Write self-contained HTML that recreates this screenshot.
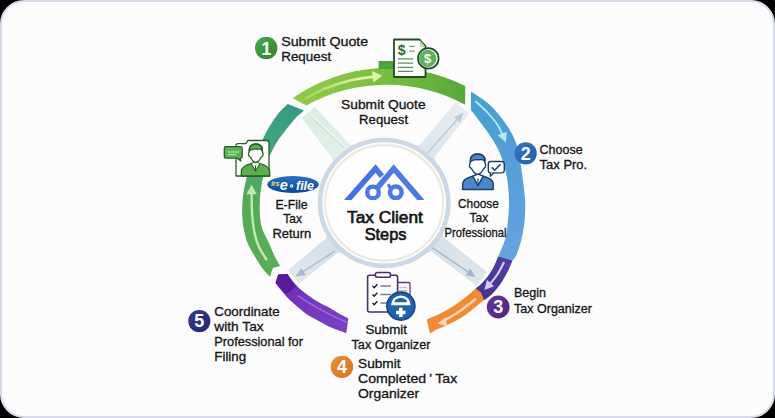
<!DOCTYPE html>
<html><head><meta charset="utf-8"><style>
html,body{margin:0;padding:0;background:#000;}
svg{display:block;}
text{font-family:"Liberation Sans",sans-serif;}
</style></head><body>
<svg width="775" height="418" viewBox="0 0 775 418">
<defs>
<linearGradient id="gTop" x1="290" y1="100" x2="465" y2="90" gradientUnits="userSpaceOnUse">
<stop offset="0" stop-color="#94ca46"/><stop offset="0.45" stop-color="#80c040"/><stop offset="0.8" stop-color="#66b33d"/><stop offset="1" stop-color="#55a83a"/></linearGradient>
<linearGradient id="gTopArrow" x1="305" y1="0" x2="360" y2="0" gradientUnits="userSpaceOnUse">
<stop offset="0" stop-color="#def3a6" stop-opacity="0.25"/><stop offset="1" stop-color="#def3a6" stop-opacity="1"/></linearGradient>
<linearGradient id="gLeft" x1="290" y1="105" x2="250" y2="270" gradientUnits="userSpaceOnUse">
<stop offset="0" stop-color="#34997f"/><stop offset="0.2" stop-color="#3da384"/><stop offset="0.42" stop-color="#48a872"/><stop offset="0.6" stop-color="#53ab58"/><stop offset="1" stop-color="#5aad55"/></linearGradient>
<linearGradient id="gBlue" x1="475" y1="95" x2="515" y2="255" gradientUnits="userSpaceOnUse">
<stop offset="0" stop-color="#40a2d2"/><stop offset="0.35" stop-color="#549dd8"/><stop offset="1" stop-color="#65a3df"/></linearGradient>
<linearGradient id="gPurR" x1="505" y1="258" x2="480" y2="298" gradientUnits="userSpaceOnUse">
<stop offset="0" stop-color="#4f3fa2"/><stop offset="1" stop-color="#45328f"/></linearGradient>
<linearGradient id="gPurL" x1="280" y1="280" x2="348" y2="328" gradientUnits="userSpaceOnUse">
<stop offset="0" stop-color="#6d2eb4"/><stop offset="0.5" stop-color="#7638bd"/><stop offset="1" stop-color="#7c40c4"/></linearGradient>
<linearGradient id="gSpTL" x1="305" y1="112" x2="345" y2="150" gradientUnits="userSpaceOnUse">
<stop offset="0" stop-color="#d9ede1"/><stop offset="1" stop-color="#e2f0e7"/></linearGradient>
<linearGradient id="gSpTR" x1="462" y1="108" x2="425" y2="150" gradientUnits="userSpaceOnUse">
<stop offset="0" stop-color="#e7edf2"/><stop offset="1" stop-color="#dde6ed"/></linearGradient>
<linearGradient id="gSpBL" x1="294" y1="276" x2="335" y2="248" gradientUnits="userSpaceOnUse">
<stop offset="0" stop-color="#dfe7ef"/><stop offset="1" stop-color="#d5dfe9"/></linearGradient>
<linearGradient id="gSpBR" x1="481" y1="279" x2="435" y2="246" gradientUnits="userSpaceOnUse">
<stop offset="0" stop-color="#dde7ea"/><stop offset="1" stop-color="#d7e1ea"/></linearGradient>
<linearGradient id="gEfile" x1="0" y1="0" x2="0" y2="1">
<stop offset="0" stop-color="#2a6fc0"/><stop offset="1" stop-color="#0d4896"/></linearGradient>
<linearGradient id="gLogo" x1="349" y1="165" x2="423" y2="200" gradientUnits="userSpaceOnUse">
<stop offset="0" stop-color="#3d6be0"/><stop offset="0.5" stop-color="#4d7be6"/><stop offset="1" stop-color="#4a78e4"/></linearGradient>
</defs>
<rect x="1" y="1" width="773" height="416" rx="23" ry="23" fill="#fcfcfc" stroke="#d6dae9" stroke-width="2"/>

<g id="spokes">
<path d="M367.9,164.7 L314.9,107.4 L302.3,118.0 L349.6,180.1 Z" fill="url(#gSpTL)" stroke="#d2e6da" stroke-width="0.6"/>
<path d="M417.2,178.1 L468.4,113.6 L455.6,103.2 L402.5,166.0 Z" fill="url(#gSpTR)" stroke="#d5dfe8" stroke-width="0.6"/>
<path d="M347.6,221.0 L288.7,270.0 L299.1,282.8 L359.2,235.4 Z" fill="url(#gSpBL)" stroke="#ccd8e3" stroke-width="0.6"/>
<path d="M410.3,234.9 L476.5,285.3 L486.7,272.3 L421.7,220.3 Z" fill="url(#gSpBR)" stroke="#cfdbe3" stroke-width="0.6"/>
<path d="M347.28,143.18 Q350.18,146.63 354.10,144.42 L352.87,148.28 Z" fill="#cfdcdf"/><path d="M331.97,156.05 Q334.87,159.49 332.02,162.98 L336.03,162.43 Z" fill="#cfdcdf"/>
<path d="M435.68,154.57 Q432.83,158.05 435.78,161.45 L431.70,161.01 Z" fill="#cfdae5"/><path d="M421.91,143.29 Q419.06,146.77 415.15,144.55 L416.38,148.46 Z" fill="#cfdae5"/>
<path d="M324.67,240.21 Q328.16,237.38 325.95,233.46 L329.86,234.72 Z" fill="#cfdae5"/><path d="M335.68,253.81 Q339.18,250.98 342.55,253.95 L342.14,249.87 Z" fill="#cfdae5"/>
<path d="M434.23,252.92 Q430.68,250.15 427.36,253.19 L427.70,249.09 Z" fill="#cfdae5"/><path d="M445.00,239.13 Q441.45,236.36 443.59,232.40 L439.70,233.72 Z" fill="#cfdae5"/>
<path d="M310.3,116 L345.5,149" stroke="#cbe2d4" stroke-width="1.1"/>
<path d="M311.6,115.2 L346.8,148.2" stroke="#f1f9f4" stroke-width="1.2"/>
<path d="M427.5,153 L459.5,117" stroke="#b9cbdb" stroke-width="1.3"/>
<path d="M463.5,112.8 L460.0,122.7 L454.0,117.3 Z" fill="#b9cbdb"/>
<path d="M335,251 L301,273" stroke="#a9bacb" stroke-width="1.4"/>
<path d="M295.5,276.5 L301.3,267.9 L305.7,275.1 Z" fill="#a9bacb"/>
<path d="M432,247.5 L469,272.5" stroke="#a5b5c8" stroke-width="1.4"/>
<path d="M475.5,277.0 L465.7,275.5 L470.3,268.5 Z" fill="#a5b5c8"/>
</g>
<g id="ring">
<path d="M292.6,98.2 A168.87,168.87 0 0 1 465.2,86.1 L465.2,104.7 A164.65,164.65 0 0 0 306.5,105.5 Z" fill="url(#gTop)"/>
<rect x="378.6" y="61" width="16" height="8" fill="#4ba63a"/>
<path d="M287.8,103.9 C286.2,105.5 281.5,109.5 278.3,113.5 C275.1,117.5 271.8,122.5 268.7,127.8 C265.6,133.1 262.8,139.3 260.0,145.0 C257.2,150.7 254.2,156.5 252.0,162.0 C249.8,167.5 248.0,172.3 246.5,178.0 C245.0,183.7 243.7,190.0 243.0,196.0 C242.3,202.0 242.1,208.5 242.2,214.0 C242.3,219.5 242.9,224.2 243.8,229.0 C244.7,233.8 245.7,238.5 247.5,243.0 C249.3,247.5 252.1,251.8 254.6,256.0 C257.1,260.2 259.9,265.1 262.5,268.5 C265.1,271.9 268.7,275.3 269.9,276.7 L272.9,268.0 L280.1,265.9 C279.2,264.3 276.6,260.2 274.7,256.3 C272.8,252.4 270.8,247.2 268.7,242.5 C266.6,237.8 263.5,232.8 262.0,228.0 C260.5,223.2 260.1,219.0 259.8,214.0 C259.5,209.0 259.6,203.7 260.0,198.0 C260.4,192.3 261.4,185.8 262.5,180.0 C263.6,174.2 265.0,167.7 266.5,163.0 C268.0,158.3 269.8,155.6 271.6,152.0 C273.4,148.4 274.9,145.2 277.3,141.5 C279.7,137.8 283.0,133.7 286.0,129.8 C289.0,125.9 292.5,121.5 295.5,118.3 C298.5,115.1 302.7,111.9 304.1,110.6 Z" fill="url(#gLeft)"/>
<path d="M471.0,91.5 C473.1,92.9 479.9,97.1 483.7,100.0 C487.5,102.9 490.1,104.9 493.7,108.7 C497.3,112.5 501.9,118.2 505.2,123.0 C508.5,127.8 511.6,132.7 513.8,137.4 C516.0,142.1 516.9,145.2 518.2,151.0 C519.5,156.8 520.7,164.5 521.8,172.0 C522.9,179.5 524.2,189.7 524.8,196.0 C525.4,202.3 525.3,205.0 525.2,210.0 C525.1,215.0 524.7,220.8 524.0,226.0 C523.3,231.2 522.2,236.3 521.0,241.0 C519.8,245.7 518.0,251.1 516.6,254.4 C515.2,257.7 513.2,259.6 512.5,260.6 L498.4,256.3 C499.6,253.2 503.9,244.1 505.5,238.0 C507.1,231.9 507.4,226.3 508.0,220.0 C508.6,213.7 509.2,207.0 509.0,200.0 C508.8,193.0 508.2,185.0 507.0,178.0 C505.8,171.0 504.1,164.2 501.8,158.0 C499.6,151.8 496.8,146.6 493.5,141.0 C490.2,135.4 485.8,129.7 482.0,124.5 C478.2,119.3 472.8,112.4 471.0,110.0 Z" fill="url(#gBlue)"/>
<path d="M512.5,260.6 C511.8,262.2 510.1,266.8 508.5,270.0 C506.9,273.2 504.9,276.9 503.0,280.0 C501.1,283.1 499.2,285.8 497.0,288.5 C494.8,291.2 492.2,294.1 490.0,296.0 C487.8,297.9 485.0,299.5 484.0,300.2 L475.7,288.5 C476.5,287.8 478.7,286.2 480.5,284.5 C482.3,282.8 484.5,280.6 486.5,278.0 C488.5,275.4 490.7,272.3 492.7,268.7 C494.7,265.1 497.4,258.4 498.4,256.3 Z" fill="url(#gPurR)"/>
<path d="M430.0,333.6 C431.1,332.9 434.2,330.9 436.7,329.6 C439.2,328.3 442.3,327.3 445.1,326.0 C447.9,324.7 450.7,323.3 453.5,321.9 C456.3,320.4 459.0,319.1 461.8,317.3 C464.6,315.5 467.3,313.5 470.2,311.3 C473.1,309.1 476.7,305.9 479.0,304.0 C481.3,302.1 483.2,300.8 484.0,300.2 L481.0,292.5 L475.7,288.5 C474.8,289.3 472.5,291.5 470.2,293.4 C467.9,295.3 464.6,297.9 461.8,300.0 C459.0,302.1 456.3,304.2 453.5,306.0 C450.7,307.8 447.9,309.5 445.1,311.0 C442.3,312.5 439.8,313.8 436.7,315.2 C433.6,316.6 428.4,318.7 426.7,319.4 Z" fill="#f08a33"/>
<path d="M275.5,283.0 C276.8,284.6 280.6,289.6 283.0,292.5 C285.4,295.4 287.2,297.5 290.0,300.2 C292.8,302.9 296.9,306.2 299.6,308.5 C302.3,310.8 303.1,311.9 306.3,314.0 C309.5,316.1 314.8,318.8 318.7,321.0 C322.6,323.2 325.4,325.0 330.0,327.0 C334.6,329.0 343.6,332.2 346.3,333.2 L348.3,318.5 C346.8,317.7 342.1,315.2 339.0,313.5 C335.9,311.8 333.4,309.9 330.0,308.0 C326.6,306.1 322.2,304.3 318.7,302.3 C315.2,300.3 312.0,298.0 309.1,296.0 C306.2,294.0 303.7,292.2 301.5,290.3 C299.3,288.4 297.5,286.6 295.7,284.6 C293.9,282.6 291.4,279.5 290.5,278.5 L287.5,274.1 L278.2,274.5 Z" fill="url(#gPurL)"/>
<path d="M275.5,283 L278.2,274.5 L287.5,274.1 L290.5,278.5 L295.8,286.5 L286.3,294.2 L281,289 Z" fill="#5b1b9b"/>
</g>
<g id="arrows">
<path d="M305.5,98.7 C308.8,97.0 317.6,91.5 325.0,88.5 C332.4,85.5 342.1,82.5 350.0,80.5 C357.9,78.5 368.8,77.4 372.6,76.8" stroke="url(#gTopArrow)" stroke-width="2.8" fill="none" stroke-linecap="round"/>
<path d="M382.3,75.8 L373.2,82.6 L372.0,71.0 Z" fill="#def3a6"/>
<path d="M266.4,259.5 C265.1,257.2 260.5,250.4 258.5,245.9 C256.5,241.4 255.5,237.6 254.4,232.3 C253.3,227.0 252.6,220.4 252.1,214.0 C251.6,207.6 251.7,197.3 251.6,194.0" stroke="#c5eab0" stroke-width="2.4" fill="none" stroke-linecap="round"/>
<path d="M251.6,184.8 L256.7,194.2 L246.5,194.2 Z" fill="#c5eab0"/>
<path d="M475.8,101.5 C477.7,103.2 483.5,108.2 487.0,112.0 C490.5,115.8 494.4,120.2 497.0,124.0 C499.6,127.8 501.6,132.8 502.5,134.5" stroke="#b8e8f5" stroke-width="1.8" fill="none" stroke-linecap="round"/>
<path d="M505.9,142.6 L497.8,135.3 L506.8,131.7 Z" fill="#b8e8f5"/>
<path d="M503.7,262.9 C502.6,264.9 499.4,271.4 497.0,275.0 C494.6,278.6 490.8,282.9 489.5,284.5" stroke="#d6c8f2" stroke-width="2.2" fill="none" stroke-linecap="round"/>
<path d="M484.4,290.0 L486.9,279.8 L494.1,286.2 Z" fill="#d6c8f2"/>
<path d="M475.2,299.3 C472.7,301.2 464.9,307.6 460.0,311.0 C455.1,314.4 448.3,318.1 446.0,319.5" stroke="#f8d5b5" stroke-width="2.4" fill="none" stroke-linecap="round"/>
<path d="M437.6,323.6 L445.5,317.2 L447.3,326.6 Z" fill="#f8d5b5"/>
<path d="M298.0,295.5 C299.8,296.7 304.0,299.8 309.0,302.8 C314.0,305.8 321.6,310.2 328.0,313.5 C334.4,316.8 344.2,321.0 347.4,322.5" stroke="#9c72d6" stroke-width="1.4" fill="none"/>
</g>


<ellipse cx="384.2" cy="202.9" rx="64.1" ry="62.9" fill="#fefefe" stroke="#ccd8e3" stroke-width="4.6"/>
<ellipse cx="384.2" cy="202.9" rx="59" ry="57.8" fill="none" stroke="#eae8df" stroke-width="2.2"/>


<!-- doc icon -->
<g>
<path d="M394,39.5 L419.5,39.5 L425.5,46 L425.5,77 L394,77 Z" fill="#fdfefb" stroke="#1f4a2a" stroke-width="1.8" stroke-linejoin="round"/>
<path d="M420,40 L420,46.8 L425.5,46.8 Z" fill="#b9dca0"/>
<text x="401.6" y="55.3" font-size="14" font-weight="bold" fill="#2d6934" text-anchor="middle">$</text>
<path d="M409.4,46.3 H414.8 M409.4,51.1 H414.8" stroke="#6f9c72" stroke-width="1.3"/>
<path d="M398,58.9 H413.1 M398,63.2 H413.1 M398,67.3 H413.1 M398,71.4 H413.1" stroke="#5f8b63" stroke-width="1.2"/>
<circle cx="428.3" cy="58.4" r="10.3" fill="#fdfefb" stroke="#1f4a2a" stroke-width="1.7"/>
<circle cx="427.7" cy="58.4" r="8.6" fill="#62ad5e"/>
<text x="427.7" y="63.2" font-size="13" font-weight="bold" fill="#f4fbef" text-anchor="middle">$</text>
</g>
<!-- person + check bubble -->
<g stroke="#1e3f6f" stroke-width="1.4" stroke-linejoin="round">
<path d="M462.5,189.5 L462.8,183.5 C463,179.5 466.5,177.8 472.8,176.2 L478,184 L483.2,176.2 C489.5,177.8 493,179.5 493.2,183.5 L493.2,189.5 Z" fill="#4a86c8"/>
<path d="M472.8,176.2 L478,185.5 L483.2,176.2 L478,174 Z" fill="#fff"/>
<path d="M478,178.5 L478,186" stroke-width="1.2"/>
<path d="M469.60,166.50 C469.20,164.50 470.30,163.50 470.40,161.00 C469.80,156.50 473.00,154.00 477.60,154.00 C482.30,154.00 485.50,156.50 484.80,161.00 C484.90,163.50 486.00,164.50 485.60,166.50 C485.20,168.00 484.20,168.00 483.70,168.50 C482.20,171.50 479.70,174.30 477.60,174.30 C475.50,174.30 473.00,171.50 471.50,168.50 C471.00,168.00 470.00,168.00 469.60,166.50 Z" fill="#fff"/>
<path d="M470.40,161.80 C469.80,156.50 473.00,154.00 477.60,154.00 C482.30,154.00 485.50,156.50 484.80,161.80 C484.00,160.00 482.50,159.20 480.50,159.60 C478.50,160.00 476.50,159.40 474.80,159.80 C472.80,160.20 471.30,160.60 470.40,161.80 Z" fill="#4a86c8"/>
<rect x="488.3" y="161.5" width="16" height="11.4" rx="2.6" fill="#fff"/>
<path d="M490.5,172.5 L490.3,176.3 L494,172.8" fill="#fff"/>
<path d="M491.8,167.2 L494.6,170.2 L500.6,164.3" fill="none" stroke-width="1.6"/>
</g>
<!-- person in folder (left) -->
<g stroke="#2b5a2e" stroke-width="1.3" stroke-linejoin="round">
<path d="M236,176 L236,145.5 Q236,143.6 238,143.6 L246,143.6 L247.8,140.5 L266.5,140.5 Q269,140.5 269,143 L269,176 Z" fill="#fdfefc"/>
<path d="M241.2,176 L241.4,171 C241.7,167 245.2,165.2 251,163.5 L255.5,170.5 L260,163.5 C265.8,165.2 269.3,167 269.6,171 L269.8,176 Z" fill="#5dae4e"/>
<path d="M251,163.5 L255.5,171 L260,163.5 L255.5,161.5 Z" fill="#e8f4e0" stroke-width="1"/><path d="M255.5,165.5 V171.5" stroke-width="1.1"/>
<path d="M248.60,155.25 C248.24,153.45 249.23,152.55 249.32,150.30 C248.78,146.25 251.66,144.00 255.80,144.00 C260.03,144.00 262.91,146.25 262.28,150.30 C262.37,152.55 263.36,153.45 263.00,155.25 C262.64,156.60 261.74,156.60 261.29,157.05 C259.94,159.75 257.69,162.27 255.80,162.27 C253.91,162.27 251.66,159.75 250.31,157.05 C249.86,156.60 248.96,156.60 248.60,155.25 Z" fill="#fdfefc"/>
<path d="M249.32,151.02 C248.78,146.25 251.66,144.00 255.80,144.00 C260.03,144.00 262.91,146.25 262.28,151.02 C261.56,149.40 260.21,148.68 258.41,149.04 C256.61,149.40 254.81,148.86 253.28,149.22 C251.48,149.58 250.13,149.94 249.32,151.02 Z" fill="#5dae4e"/>
<path d="M226,146.6 L240.5,146.6 Q242.2,146.6 242.2,148.3 L242.2,156.4 Q242.2,158.1 240.5,158.1 L240,158.1 L240.8,161 L237,158.1 L226,158.1 Q224.3,158.1 224.3,156.4 L224.3,148.3 Q224.3,146.6 226,146.6 Z" fill="#5cb35a"/>
<path d="M228,152 H239 M228,154.6 H236" stroke="#c9ecb8" stroke-width="0.9"/>
</g>
<!-- e-file -->
<g>
<ellipse cx="293" cy="184.5" rx="25.7" ry="8.4" fill="url(#gEfile)"/>
<text x="271.3" y="185.8" font-size="7.5" font-weight="bold" font-style="italic" fill="#ecea84" textLength="8" lengthAdjust="spacingAndGlyphs">irs</text>
<text x="283.8" y="190.4" font-size="14.5" font-weight="bold" font-style="italic" fill="#fff" text-anchor="middle">e</text>
<circle cx="291.7" cy="186" r="1.7" fill="#fff"/><circle cx="291.7" cy="186" r="0.7" fill="#1a5aa8"/>
<text x="296" y="190.2" font-size="12.5" font-weight="bold" font-style="italic" fill="#fff" textLength="18" lengthAdjust="spacingAndGlyphs">file</text>
</g>
<!-- clipboard -->
<g>
<rect x="390" y="282.5" width="20" height="20" rx="1.5" fill="#fff" stroke="#5a3a80" stroke-width="1.3"/>
<path d="M399,287.5 H407 M399,290.7 H407" stroke="#cdb6df" stroke-width="1.6"/>
<rect x="367.6" y="275.3" width="30" height="36.7" rx="2" fill="#fff" stroke="#4a2c6e" stroke-width="1.6"/>
<rect x="375.3" y="272.4" width="15.3" height="4.8" rx="2.2" fill="#fff" stroke="#4a2c6e" stroke-width="1.5"/>
<path d="M372.5,286 L374.2,287.8 L377.3,284.2 M372.5,294.5 L374.2,296.3 L377.3,292.7 M372.5,303 L374.2,304.8 L377.3,301.2" fill="none" stroke="#231733" stroke-width="1.4"/>
<path d="M380.5,286 H391 M380.5,294.5 H391 M380.5,303 H388" stroke="#857796" stroke-width="1.4"/>
<circle cx="400.9" cy="306.1" r="14.1" fill="#1f63ad" stroke="#15407a" stroke-width="1.4"/>
<path d="M391,305.3 A9.8,9.9 0 0 1 410.6,305.3 Z" fill="#fff"/>
<path d="M394.5,302.2 A6.3,4.2 0 0 1 407.1,302.2 Z" fill="#1f63ad"/>
<path d="M400.8,307.8 V317 M396,312.4 H405.6" stroke="#fff" stroke-width="3.5"/>
</g>
<!-- center logo -->
<clipPath id="cpLogo"><rect x="330" y="150" width="110" height="50"/></clipPath>
<g fill="none" stroke="url(#gLogo)" stroke-width="5.6" stroke-linejoin="miter" stroke-miterlimit="10" clip-path="url(#cpLogo)">
<path d="M342.5,206 L375.5,168.5 L382,176.2"/>
<path d="M377.5,187.7 L393.7,168.5 L426,206"/>
<circle cx="373" cy="192.4" r="5.8" stroke-width="4.4"/>
<circle cx="395.8" cy="192.3" r="5.8" stroke-width="4.6"/>
<path d="M390.3,188 L388.2,184.2" stroke-width="3.2" stroke-linecap="butt"/>
</g>

<linearGradient id="gB1" x1="0" y1="0" x2="1" y2="1"><stop offset="0" stop-color="#4aa84a"/><stop offset="1" stop-color="#2f8432"/></linearGradient>
<circle cx="266.2" cy="48" r="11.2" fill="url(#gB1)"/>
<text x="266.2" y="55.3" font-size="18" font-weight="bold" fill="#fff" text-anchor="middle">1</text>
<linearGradient id="gB2" x1="0" y1="0" x2="1" y2="1"><stop offset="0" stop-color="#3677c2"/><stop offset="1" stop-color="#2260aa"/></linearGradient>
<circle cx="525.7" cy="153.3" r="11.1" fill="url(#gB2)"/>
<text x="525.7" y="159.60000000000002" font-size="18" font-weight="bold" fill="#fff" text-anchor="middle">2</text>
<linearGradient id="gB3" x1="0" y1="0" x2="1" y2="1"><stop offset="0" stop-color="#68369a"/><stop offset="1" stop-color="#4e2280"/></linearGradient>
<circle cx="498.2" cy="307" r="11.4" fill="url(#gB3)"/>
<text x="498.2" y="313.3" font-size="18" font-weight="bold" fill="#fff" text-anchor="middle">3</text>
<linearGradient id="gB4" x1="0" y1="0" x2="1" y2="1"><stop offset="0" stop-color="#ee8e34"/><stop offset="1" stop-color="#d8731f"/></linearGradient>
<circle cx="341.9" cy="366.9" r="11.2" fill="url(#gB4)"/>
<text x="341.9" y="373.2" font-size="18" font-weight="bold" fill="#fff" text-anchor="middle">4</text>
<linearGradient id="gB5" x1="0" y1="0" x2="1" y2="1"><stop offset="0" stop-color="#363a8c"/><stop offset="1" stop-color="#23266e"/></linearGradient>
<circle cx="199.3" cy="321.1" r="11.1" fill="url(#gB5)"/>
<text x="199.3" y="327.40000000000003" font-size="18" font-weight="bold" fill="#fff" text-anchor="middle">5</text>
<text x="281.2" y="46.3" font-size="12.6" font-weight="normal" textLength="87" lengthAdjust="spacingAndGlyphs" fill="#161616" stroke="#161616" stroke-width="0.32" >Submit Quote</text>
<text x="281.2" y="60.6" font-size="12.6" font-weight="normal" textLength="50" lengthAdjust="spacingAndGlyphs" fill="#161616" stroke="#161616" stroke-width="0.32" >Request</text>
<text x="539.6" y="154.4" font-size="12.6" font-weight="normal" textLength="43" lengthAdjust="spacingAndGlyphs" fill="#161616" stroke="#161616" stroke-width="0.32" >Choose</text>
<text x="539.6" y="168.8" font-size="12.6" font-weight="normal" textLength="47.6" lengthAdjust="spacingAndGlyphs" fill="#161616" stroke="#161616" stroke-width="0.32" >Tax Pro.</text>
<text x="514" y="296.7" font-size="12.6" font-weight="normal" textLength="32" lengthAdjust="spacingAndGlyphs" fill="#161616" stroke="#161616" stroke-width="0.32" >Begin</text>
<text x="514" y="313.3" font-size="12.6" font-weight="normal" textLength="78" lengthAdjust="spacingAndGlyphs" fill="#161616" stroke="#161616" stroke-width="0.32" >Tax Organizer</text>
<text x="358" y="367.5" font-size="12.6" font-weight="normal" textLength="42.6" lengthAdjust="spacingAndGlyphs" fill="#161616" stroke="#161616" stroke-width="0.32" >Submit</text>
<text x="358" y="383" font-size="12.6" font-weight="normal" textLength="99.2" lengthAdjust="spacingAndGlyphs" fill="#161616" stroke="#161616" stroke-width="0.32" >Completed&#8201;&#8217; Tax</text>
<text x="358" y="397.9" font-size="12.6" font-weight="normal" textLength="61.2" lengthAdjust="spacingAndGlyphs" fill="#161616" stroke="#161616" stroke-width="0.32" >Organizer</text>
<text x="214.3" y="315.9" font-size="12.6" font-weight="normal" textLength="65.3" lengthAdjust="spacingAndGlyphs" fill="#161616" stroke="#161616" stroke-width="0.32" >Coordinate</text>
<text x="214.3" y="330.7" font-size="12.6" font-weight="normal" textLength="49.4" lengthAdjust="spacingAndGlyphs" fill="#161616" stroke="#161616" stroke-width="0.32" >with Tax</text>
<text x="214.3" y="346" font-size="12.6" font-weight="normal" textLength="88.6" lengthAdjust="spacingAndGlyphs" fill="#161616" stroke="#161616" stroke-width="0.32" >Professional for</text>
<text x="214.3" y="360.5" font-size="12.6" font-weight="normal" textLength="31.8" lengthAdjust="spacingAndGlyphs" fill="#161616" stroke="#161616" stroke-width="0.32" >Filing</text>
<text x="341" y="108.5" font-size="12.6" font-weight="normal" textLength="84.6" lengthAdjust="spacingAndGlyphs" fill="#161616" stroke="#161616" stroke-width="0.32" >Submit Quote</text>
<text x="359.1" y="124.1" font-size="12.6" font-weight="normal" textLength="49" lengthAdjust="spacingAndGlyphs" fill="#161616" stroke="#161616" stroke-width="0.32" >Request</text>
<text x="458" y="207.8" font-size="12.6" font-weight="normal" textLength="40.8" lengthAdjust="spacingAndGlyphs" fill="#161616" stroke="#161616" stroke-width="0.32" >Choose</text>
<text x="469.6" y="222" font-size="12.6" font-weight="normal" textLength="18.6" lengthAdjust="spacingAndGlyphs" fill="#161616" stroke="#161616" stroke-width="0.32" >Tax</text>
<text x="444.6" y="236.7" font-size="12.6" font-weight="normal" textLength="61.8" lengthAdjust="spacingAndGlyphs" fill="#161616" stroke="#161616" stroke-width="0.32" >Professional</text>
<text x="275.4" y="208.8" font-size="12.6" font-weight="normal" textLength="32.2" lengthAdjust="spacingAndGlyphs" fill="#161616" stroke="#161616" stroke-width="0.32" >E-File</text>
<text x="283.3" y="223.2" font-size="12.6" font-weight="normal" textLength="18.6" lengthAdjust="spacingAndGlyphs" fill="#161616" stroke="#161616" stroke-width="0.32" >Tax</text>
<text x="272.4" y="237.6" font-size="12.6" font-weight="normal" textLength="38.8" lengthAdjust="spacingAndGlyphs" fill="#161616" stroke="#161616" stroke-width="0.32" >Return</text>
<text x="347" y="222.5" font-size="16.2" font-weight="normal" textLength="75.8" lengthAdjust="spacingAndGlyphs" fill="#161616" stroke="#161616" stroke-width="0.65" >Tax Client</text>
<text x="364.7" y="240.1" font-size="16.2" font-weight="normal" textLength="41.7" lengthAdjust="spacingAndGlyphs" fill="#161616" stroke="#161616" stroke-width="0.65" >Steps</text>
<text x="365.4" y="334.1" font-size="12.6" font-weight="normal" textLength="41.6" lengthAdjust="spacingAndGlyphs" fill="#161616" stroke="#161616" stroke-width="0.32" >Submit</text>
<text x="351.5" y="348.8" font-size="12.6" font-weight="normal" textLength="79" lengthAdjust="spacingAndGlyphs" fill="#161616" stroke="#161616" stroke-width="0.32" >Tax Organizer</text>
</svg>
</body></html>
